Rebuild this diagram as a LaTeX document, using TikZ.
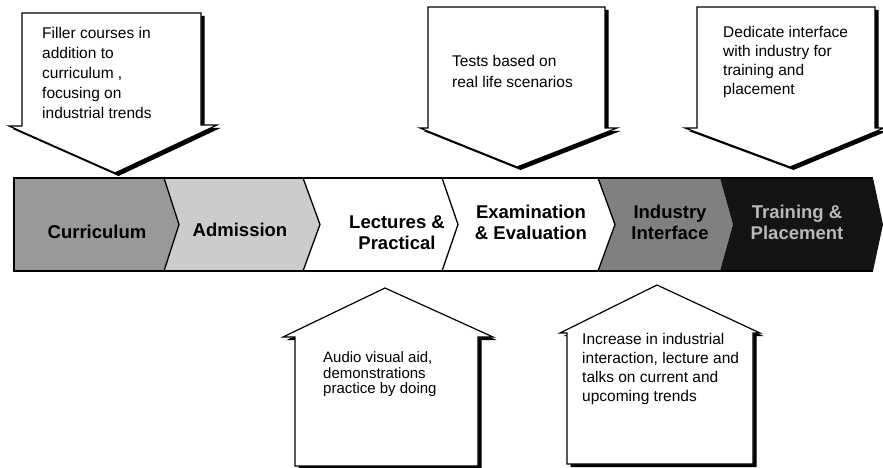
\documentclass[tikz,border=0pt]{standalone}
\usepackage{fontspec}
\setmainfont{Liberation Sans}
\begin{document}
\begin{tikzpicture}[x=1pt,y=-1pt,
  callout/.style={draw=black,line width=1.2pt,fill=white,line join=miter},
  calloutshadow/.style={fill=black,shift={(3.5,3)}},
  note/.style={anchor=north west,align=left,inner sep=0pt,
    font=\fontsize{15.5}{20}\selectfont},
  stage/.style={align=center,inner sep=0pt,
    font=\bfseries\fontsize{18.5}{21}\selectfont},
  sep/.style={draw=black,line width=1.3pt},
]
\useasboundingbox (0,0) rectangle (883,468);

% ---- process band ----
\fill[black!40] (14,178) -- (164,178) -- (179,224.5) -- (164,271) -- (14,271) -- cycle;
\fill[black!20] (164,178) -- (303,178) -- (320,224.5) -- (303,271) -- (164,271) -- (179,224.5) -- cycle;
\fill[white] (303,178) -- (442,178) -- (458,224.5) -- (442,271) -- (303,271) -- (320,224.5) -- cycle;
\fill[white] (442,178) -- (598,178) -- (615,224.5) -- (598,271) -- (442,271) -- (458,224.5) -- cycle;
\fill[black!50] (598,178) -- (720,178) -- (733,224.5) -- (720,271) -- (598,271) -- (615,224.5) -- cycle;
\fill[black!92] (720,178) -- (873,178) -- (883,224.5) -- (873,271) -- (720,271) -- (733,224.5) -- cycle;

\draw[sep] (164,178) -- (179,224.5) -- (164,271);
\draw[sep] (303,178) -- (320,224.5) -- (303,271);
\draw[sep] (442,178) -- (458,224.5) -- (442,271);
\draw[sep] (598,178) -- (615,224.5) -- (598,271);
\draw[line width=1.6pt] (873,178) -- (14,178) -- (14,271) -- (873,271);

\node[stage] (curr) at (97,232) {Curriculum};
\node[stage] (adm) at (240,230) {Admission};
\node[stage] (lect) at (397,233) {Lectures \&\\Practical};
\node[stage] (exam) at (531,222.5) {Examination\\\& Evaluation};
\node[stage] (ind) at (670,222.5) {Industry\\Interface};
\node[stage,text=gray!55] (train) at (797,222.5) {Training \&\\Placement};

% ---- down callouts above the band ----
\fill[calloutshadow] (22,13) -- (201,13) -- (201,125) -- (217,125) -- (115,173) -- (9,126) -- (22,126) -- cycle;
\draw[callout] (22,13) -- (201,13) -- (201,125) -- (217,125) -- (115,173) -- (9,126) -- (22,126) -- cycle;
\node[note] (n1) at (42,26.7) {Filler courses in\\addition to\\curriculum ,\\focusing on\\industrial trends};

\fill[calloutshadow] (428,7) -- (605,7) -- (605,128) -- (617,128) -- (517,167) -- (420,128) -- (428,128) -- cycle;
\draw[callout] (428,7) -- (605,7) -- (605,128) -- (617,128) -- (517,167) -- (420,128) -- (428,128) -- cycle;
\node[note,font=\fontsize{15.5}{21}\selectfont] (n2) at (452,54.7) {Tests based on\\real life scenarios};

\fill[calloutshadow] (697,7) -- (875,7) -- (875,128) -- (884,128) -- (790,167) -- (685,128) -- (697,128) -- cycle;
\draw[callout] (697,7) -- (875,7) -- (875,128) -- (884,128) -- (790,167) -- (685,128) -- (697,128) -- cycle;
\node[note,font=\fontsize{15.5}{19}\selectfont] (n3) at (723,25.7) {Dedicate interface\\with industry for\\training and\\placement};

% ---- up callouts below the band ----
\fill[calloutshadow] (385,288) -- (493,337) -- (478,337) -- (478,466) -- (295,466) -- (295,337) -- (283,337) -- cycle;
\draw[callout] (385,288) -- (493,337) -- (478,337) -- (478,466) -- (295,466) -- (295,337) -- (283,337) -- cycle;
\node[note,font=\fontsize{15}{15.5}\selectfont] (n4) at (323,351.5) {Audio visual aid,\\demonstrations\\practice by doing};

\fill[calloutshadow] (657,285) -- (760,333) -- (753,333) -- (753,464) -- (567,464) -- (567,333) -- (560,333) -- cycle;
\draw[callout] (657,285) -- (760,333) -- (753,333) -- (753,464) -- (567,464) -- (567,333) -- (560,333) -- cycle;
\node[note,font=\fontsize{15.5}{19}\selectfont] (n5) at (582,332.7) {Increase in industrial\\interaction, lecture and\\talks on current and\\upcoming trends};
\end{tikzpicture}
\end{document}
